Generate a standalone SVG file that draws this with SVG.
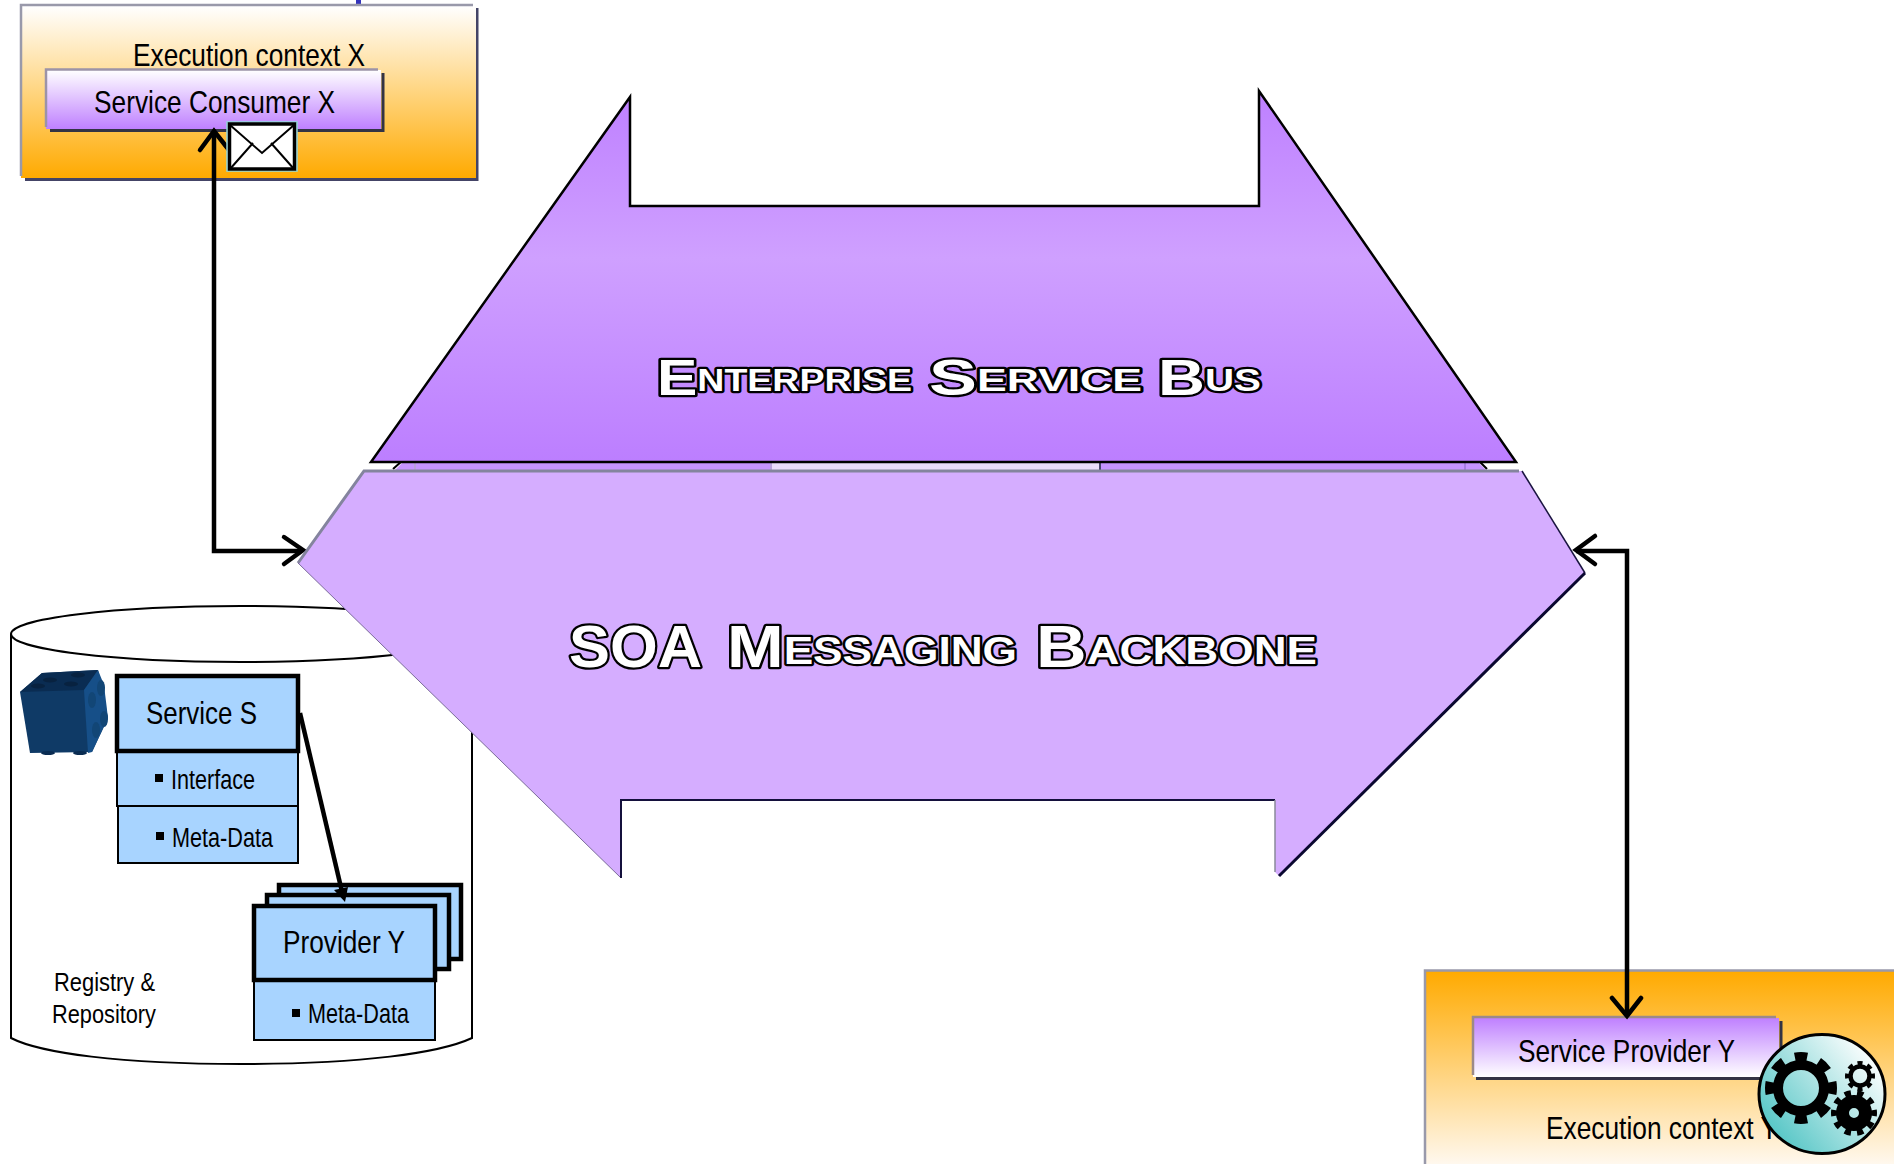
<svg xmlns="http://www.w3.org/2000/svg" width="1894" height="1164" viewBox="0 0 1894 1164">
<style>
text{font-family:"Liberation Sans",Arial,sans-serif;fill:#000}
.t30{font-size:32px}.t26{font-size:27.500px}.t24{font-size:25.500px}
.title{font-weight:bold;fill:#fff;stroke:#000;stroke-width:4.500px;stroke-linejoin:round;paint-order:stroke fill}
.up{text-transform:uppercase}
.blue{fill:#A8D4FF;stroke:#000}
.thick{stroke-width:4.5}.thin{stroke-width:2}
.conn{fill:none;stroke:#000;stroke-width:4.5;stroke-linecap:round;stroke-linejoin:miter}
.bl{fill:#000}
.tooth{fill:none;stroke:#000}
</style>
<defs>
<linearGradient id="oDown" x1="0" y1="0" x2="0" y2="1"><stop offset="0" stop-color="#fff"/><stop offset="1" stop-color="#FFAA00"/></linearGradient>
<linearGradient id="oUp" x1="0" y1="0" x2="0" y2="1"><stop offset="0" stop-color="#FFAA00"/><stop offset="1" stop-color="#FFF8EE"/></linearGradient>
<linearGradient id="pDown" x1="0" y1="0" x2="0" y2="1"><stop offset="0" stop-color="#fff"/><stop offset="1" stop-color="#BF80FF"/></linearGradient>
<linearGradient id="pUp" x1="0" y1="0" x2="0" y2="1"><stop offset="0" stop-color="#BF80FF"/><stop offset="1" stop-color="#fff"/></linearGradient>
<linearGradient id="esb" gradientUnits="userSpaceOnUse" x1="0" y1="91" x2="0" y2="462"><stop offset="0" stop-color="#BE80FF"/><stop offset="0.45" stop-color="#CFA0FF"/><stop offset="1" stop-color="#BC7EFF"/></linearGradient>
<linearGradient id="teal" x1="0.1" y1="0.85" x2="0.95" y2="0.2"><stop offset="0.05" stop-color="#5CC8C8"/><stop offset="1" stop-color="#fff"/></linearGradient>
</defs>

<g id="registry">
<path d="M11 634V1038C40 1053 120 1064 241 1064S440 1053 472 1038V634" fill="#fff" stroke="#000" stroke-width="2"/>
<ellipse cx="241" cy="634" rx="230" ry="28" fill="#fff" stroke="#000" stroke-width="2"/>
<text class="t24" x="54" y="991" textLength="101" lengthAdjust="spacingAndGlyphs">Registry &amp;</text>
<text class="t24" x="52" y="1023" textLength="104" lengthAdjust="spacingAndGlyphs">Repository</text>
</g>

<g id="service-cube">
<polygon points="20,692 42,673 98,670 108,718 92,752 30,753" fill="#0F3A66"/>
<polygon points="20,692 42,673 98,670 84,690" fill="#0A2C52"/>
<polygon points="84,690 98,670 104,685 108,718 92,752 88,753" fill="#164F88"/>
<ellipse cx="50" cy="680" rx="7" ry="2.5" fill="#082240"/><ellipse cx="78" cy="675" rx="7" ry="2.5" fill="#082240"/>
<ellipse cx="38" cy="686" rx="7" ry="2.5" fill="#082240"/><ellipse cx="71" cy="684" rx="7" ry="2.5" fill="#082240"/>
<ellipse cx="101" cy="688" rx="4" ry="8" fill="#124676"/><ellipse cx="92" cy="700" rx="4" ry="8" fill="#124676"/>
<ellipse cx="104" cy="719" rx="4" ry="8" fill="#124676"/><ellipse cx="96" cy="730" rx="4" ry="8" fill="#124676"/>
<ellipse cx="48" cy="753" rx="7" ry="2" fill="#0A2C52"/><ellipse cx="80" cy="753" rx="7" ry="2" fill="#0A2C52"/>
</g>

<g id="service-s">
<rect class="blue thin" x="117" y="751" width="181" height="55"/>
<rect class="blue thin" x="118" y="806" width="180" height="57"/>
<rect class="blue thick" x="117" y="676" width="181" height="75"/>
<text class="t30" x="146" y="724" textLength="111" lengthAdjust="spacingAndGlyphs">Service S</text>
<rect class="bl" x="155" y="774" width="8" height="8"/>
<text class="t26" x="171" y="789" textLength="84" lengthAdjust="spacingAndGlyphs">Interface</text>
<rect class="bl" x="156" y="832" width="8" height="8"/>
<text class="t26" x="172" y="847" textLength="101" lengthAdjust="spacingAndGlyphs">Meta-Data</text>
</g>

<g id="provider-y">
<rect class="blue thick" x="279" y="885" width="182" height="74"/>
<rect class="blue thick" x="267" y="895" width="182" height="74"/>
<rect class="blue thin" x="254" y="980" width="181" height="60"/>
<rect class="blue thick" x="254" y="906" width="181" height="74"/>
<text class="t30" x="283" y="953" textLength="122" lengthAdjust="spacingAndGlyphs">Provider Y</text>
<rect class="bl" x="292" y="1009" width="8" height="8"/>
<text class="t26" x="308" y="1023" textLength="101" lengthAdjust="spacingAndGlyphs">Meta-Data</text>
</g>

<g id="context-x">
<rect x="356" y="0" width="5" height="5" fill="#3333BB"/>
<polyline points="25,179.500 477,179.500 477,8" fill="none" stroke="#444466" stroke-width="3"/>
<rect x="21" y="6" width="455" height="172" fill="url(#oDown)"/>
<polyline points="21,176 21,5 473,5" fill="none" stroke="#9999AA" stroke-width="2.500"/>
<text class="t30" x="133" y="66" textLength="232" lengthAdjust="spacingAndGlyphs">Execution context X</text>
</g>

<g id="consumer-x">
<polyline points="50,130.500 383,130.500 383,73" fill="none" stroke="#333344" stroke-width="3"/>
<rect x="46" y="70" width="335" height="59" fill="url(#pDown)"/>
<polyline points="46,127 46,69.500 378,69.500" fill="none" stroke="#9C93A8" stroke-width="2.500"/>
<text class="t30" x="94" y="113" textLength="241" lengthAdjust="spacingAndGlyphs">Service Consumer X</text>
</g>

<g id="context-y">
<rect x="1425" y="971" width="469" height="193" fill="url(#oUp)"/>
<polyline points="1425,1164 1425,970.500 1894,970.500" fill="none" stroke="#9999AA" stroke-width="2.500"/>
<text class="t30" x="1546" y="1139" textLength="232" lengthAdjust="spacingAndGlyphs">Execution context Y</text>
</g>

<g id="provider-service-y">
<polyline points="1476,1078.500 1781,1078.500 1781,1021" fill="none" stroke="#333344" stroke-width="3"/>
<rect x="1473" y="1018" width="306" height="59" fill="url(#pUp)"/>
<polyline points="1473,1075 1473,1017 1776,1017" fill="none" stroke="#9C8A88" stroke-width="2.500"/>
<text class="t30" x="1518" y="1062" textLength="217" lengthAdjust="spacingAndGlyphs">Service Provider Y</text>
</g>

<g id="gears">
<ellipse cx="1822" cy="1094" rx="63" ry="59.500" fill="url(#teal)" stroke="#000" stroke-width="3"/>
<circle cx="1801" cy="1088" r="23" fill="none" stroke="#000" stroke-width="10"/>
<circle class="tooth" cx="1801" cy="1088" r="31" stroke-width="10" pathLength="8" stroke-dasharray="0.5 0.5" stroke-dashoffset="0.25"/>
<circle cx="1854" cy="1113" r="11.500" fill="none" stroke="#000" stroke-width="13"/>
<circle class="tooth" cx="1854" cy="1113" r="20" stroke-width="6" pathLength="10" stroke-dasharray="0.5 0.5" stroke-dashoffset="0.25"/>
<circle cx="1860" cy="1076" r="9.500" fill="none" stroke="#000" stroke-width="4.500"/>
<circle class="tooth" cx="1860" cy="1076" r="13" stroke-width="4" pathLength="8" stroke-dasharray="0.5 0.5" stroke-dashoffset="0.25"/>
</g>

<g id="connectors">
<path class="conn" d="M300 713L343 896" style="stroke-linecap:butt"/>
<polygon points="345,902 334,890 348,887" fill="#000"/>
<path class="conn" d="M214 133V551H300" style="stroke-linecap:butt"/>
<path class="conn" d="M200 150L214 131L229 150"/>
<path class="conn" d="M284 537L303 550L284 564"/>
<path class="conn" d="M1576 551H1627V1016" style="stroke-linecap:butt"/>
<path class="conn" d="M1595 536L1576 550L1595 564"/>
<path class="conn" d="M1612 998L1627 1016L1641 998"/>
</g>

<g id="envelope">
<rect x="227" y="122" width="70" height="49" fill="#fff" stroke="#8FD8DC" stroke-width="1.500"/>
<rect x="229.500" y="124" width="65" height="45" fill="#fff" stroke="#000" stroke-width="3.500"/>
<path d="M230 125L262 153L294 125M230 169L253 143M294 169L271 143" fill="none" stroke="#000" stroke-width="2"/>
</g>

<g id="bus-base">
<polygon points="395,470 402,463 1479,463 1486,470" fill="#C694FF"/>
<rect x="771" y="463" width="329" height="7" fill="#EADCFA"/>
<path d="M393 469L402 461M1479 461L1487 469" stroke="#000" stroke-width="2" fill="none"/>
<path d="M415 463V470M771 463V470" stroke="#B9A0DC" stroke-width="2"/>
<path d="M1100 463V470" stroke="#4A4570" stroke-width="2"/>
<path d="M1465 463V470" stroke="#A67DE0" stroke-width="2"/>
</g>

<g id="esb-arrow">
<polygon points="630,97 630,206 1259,206 1259,91 1516,462 371,462" fill="url(#esb)" stroke="#000" stroke-width="2.500" stroke-linejoin="miter"/>
<text class="title" y="395"><tspan x="657" textLength="255" lengthAdjust="spacingAndGlyphs"><tspan font-size="50">E</tspan><tspan class="up" font-size="31" dy="-4">nterprise</tspan></tspan> <tspan x="929" dy="4" textLength="213" lengthAdjust="spacingAndGlyphs"><tspan font-size="50">S</tspan><tspan class="up" font-size="31" dy="-4">ervice</tspan></tspan> <tspan x="1158" dy="4" textLength="103" lengthAdjust="spacingAndGlyphs"><tspan font-size="50">B</tspan><tspan class="up" font-size="31" dy="-4">us</tspan></tspan></text>
</g>

<g id="soa-arrow">
<polygon points="298,563 364,471 1522,471 1585,573 1279,876 1275,872 1275,800 621,800 621,878" fill="#D5ADFF"/>
<path d="M298 563L364 471H1519" fill="none" stroke="#84849E" stroke-width="3"/>
<path d="M298 563L621 878" fill="none" stroke="#7A6A9A" stroke-width="1"/>
<path d="M621 878V800H1275" fill="none" stroke="#14103C" stroke-width="2"/>
<path d="M1275 800V872" fill="none" stroke="#8A8A9A" stroke-width="1.500"/>
<path d="M1522 471L1585 573" fill="none" stroke="#1A1440" stroke-width="1.500"/>
<path d="M1585 573L1279 876" fill="none" stroke="#0A0830" stroke-width="3"/>
<text class="title" y="667"><tspan x="569" textLength="133" lengthAdjust="spacingAndGlyphs" font-size="60">SOA</tspan> <tspan x="727" textLength="290" lengthAdjust="spacingAndGlyphs"><tspan font-size="60">M</tspan><tspan class="up" font-size="39" dy="-3">essaging</tspan></tspan> <tspan x="1036" dy="3" textLength="281" lengthAdjust="spacingAndGlyphs"><tspan font-size="60">B</tspan><tspan class="up" font-size="39" dy="-3">ackbone</tspan></tspan></text>
</g>
</svg>
